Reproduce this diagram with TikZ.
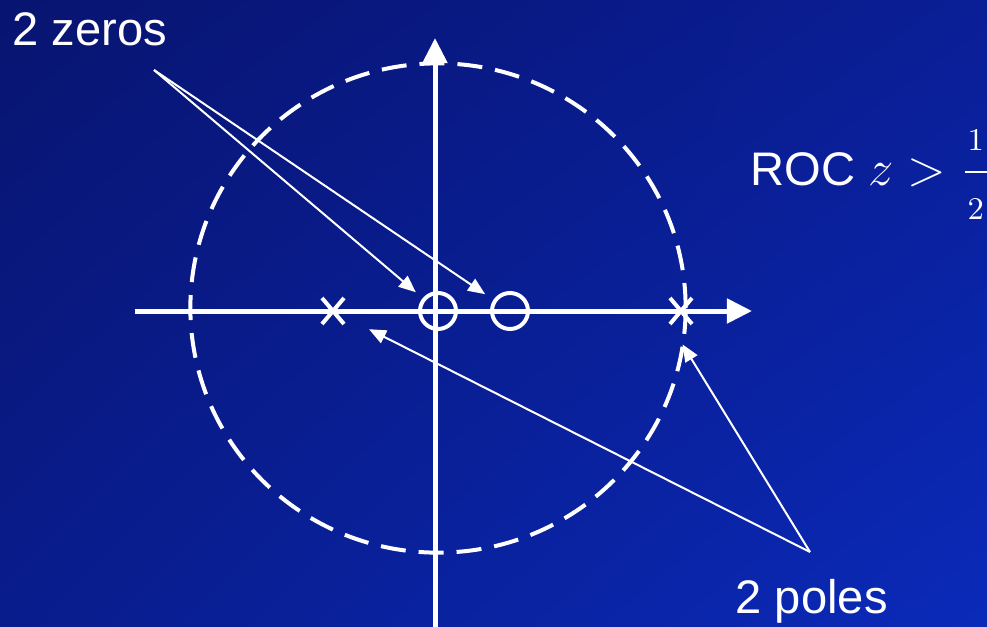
\documentclass[tikz,border=0pt]{standalone}
\usepackage{amsmath}
\usepackage[no-math]{fontspec}
\setmainfont{Liberation Sans}
\usetikzlibrary{arrows.meta, positioning, shapes.misc, shadings}
\definecolor{bgnw}{RGB}{8,20,112}
\definecolor{bgne}{RGB}{10,30,150}
\definecolor{bgsw}{RGB}{9,28,140}
\definecolor{bgse}{RGB}{10,42,185}

\begin{document}
\begin{tikzpicture}[
    x=0.01cm, y=-0.01cm,
    axis/.style={line width=0.5mm, white, -{Triangle[length=2.5mm, width=2.4mm]}},
    roc/.style={white, line width=0.4mm, dash pattern=on 2.5mm off 1.3mm},
    zero/.style={circle, draw=white, line width=0.4mm, minimum size=3.6mm, inner sep=0pt},
    pole/.style={cross out, draw=white, line width=0.4mm, minimum width=1.8mm, minimum height=2.2mm, inner sep=0pt},
    tag/.style={text=white, inner sep=0pt, anchor=base west, font=\fontsize{13.4}{16}\selectfont},
    pointer/.style={white, line width=0.2mm, -{Triangle[length=1.7mm, width=1.4mm]}},
]

% Background
\shade[upper left=bgnw, upper right=bgne, lower left=bgsw, lower right=bgse] (0,0) rectangle (987,627);
\useasboundingbox (0,0) rectangle (987,627);

% Axes
\coordinate (west) at (135,311);
\coordinate (east) at (752,311);
\coordinate (south) at (435,627);
\coordinate (north) at (435,38);
\draw[roc] (438,308) ellipse [x radius=2.475cm, y radius=2.445cm];
\draw[axis] (west) -- (east);
\draw[axis] (south) -- (north);

% Poles and zeros
\node[zero] (z1) at (438,311) {};
\node[zero] (z2) at (510,311) {};
\node[pole] (p1) at (333,311) {};
\node[pole] (p2) at (681,311) {};

% Labels
\node[tag] (zeros) at (12,45) {2 zeros};
\node[tag] (poles) at (735,613) {2 poles};
\node[tag] (roc) at (750,185) {ROC $z > \genfrac{}{}{}{0}{\scriptstyle\kern0.8pt 1\kern0.8pt}{\scriptstyle\kern0.8pt 2\kern0.8pt}$};

% Pointers
\coordinate (zsrc) at (154,70);
\coordinate (psrc) at (810,552);
\draw[pointer, shorten >=0.9mm] (zsrc) -- (z1);
\draw[pointer, shorten >=1.0mm] (zsrc) -- (z2);
\draw[pointer, shorten >=2.4mm] (psrc) -- (p2.south west);
\draw[pointer, shorten >=2.8mm] (psrc) -- (p1);

\end{tikzpicture}
\end{document}
